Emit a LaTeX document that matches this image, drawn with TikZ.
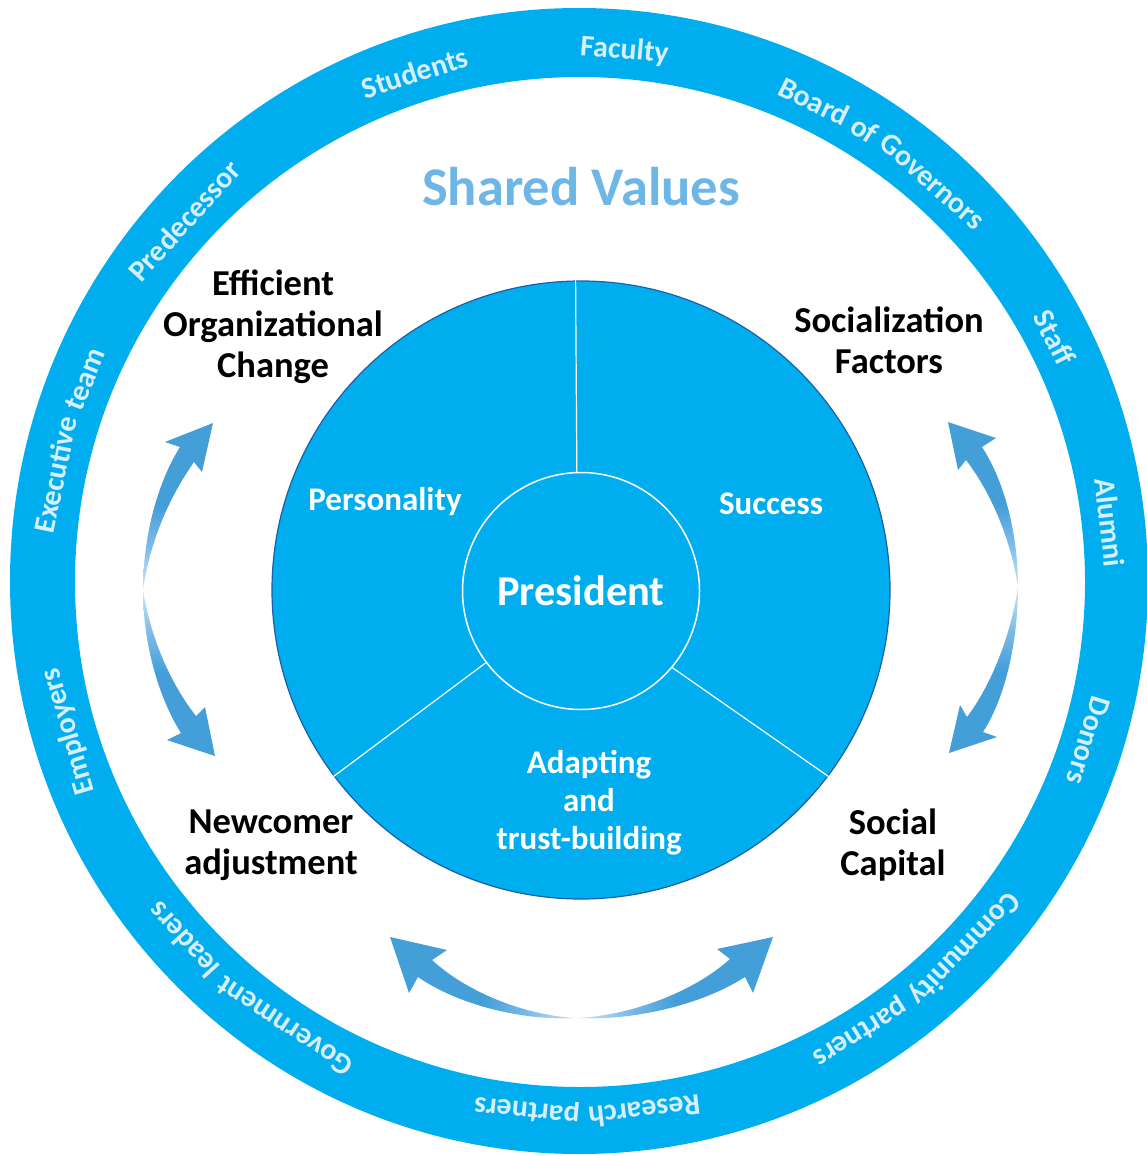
\documentclass[tikz,border=0pt]{standalone}
\usepackage{fontspec}
\setmainfont{Carlito}
\definecolor{ringblue}{HTML}{00AEEF}
\definecolor{edgeblue}{HTML}{1D5FA6}
\definecolor{svblue}{HTML}{6DB6E6}
\definecolor{ringtext}{HTML}{D6EFFB}
\definecolor{arrdark}{HTML}{449FD9}
\definecolor{arrmid}{HTML}{7DBBE8}
\definecolor{arrlight}{HTML}{D0E7F8}
\pgfdeclarehorizontalshading{arrfade}{100bp}{color(0bp)=(arrlight); color(25bp)=(arrlight); color(38bp)=(arrmid); color(50bp)=(arrdark); color(100bp)=(arrdark)}
\newcommand\ringfont{\fontsize{30}{30}\selectfont\bfseries}
\newlength\rwone \newlength\rwtwo
\newcounter{rwcount}
% measure words outside the picture (fonts work normally there)
\newcommand\measurewords[1]{%
  \foreach \w in {#1}{%
    \settowidth\rwone{\ringfont\w}%
    \pgfmathsetmacro\rwt{\rwone}%
    \expandafter\xdef\csname rwW@\w\endcsname{\rwt}%
  }%
  \settowidth\rwone{\ringfont a\ a}%
  \settowidth\rwtwo{\ringfont aa}%
  \pgfmathsetmacro\rwt{\rwone-\rwtwo}%
  \xdef\rwspace{\rwt}%
}
% #1 centre angle, #2 words separated by commas
\newcommand\ringtext[2]{%
  \xdef\rwsum{0}\xdef\rwcnt{0}%
  \foreach \w in {#2}{%
    \edef\rww{\csname rwW@\w\endcsname}%
    \pgfmathsetmacro\rwt{\rwsum+\rww}\xdef\rwsum{\rwt}%
    \pgfmathsetmacro\rwt{\rwcnt+1}\xdef\rwcnt{\rwt}%
  }%
  \pgfmathsetmacro\rwt{#1+0.5*(\rwsum+(\rwcnt-1)*\rwspace)/524*57.29578}%
  \xdef\rwcurG{\rwt}%
  \foreach \w in {#2}{%
    \edef\rww{\csname rwW@\w\endcsname}%
    \pgfmathsetmacro\rwc{\rwcurG-0.5*\rww/524*57.29578}%
    \pgfmathsetmacro\rwrot{\rwc-90}%
    \stepcounter{rwcount}%
    \node[ringword, rotate=\rwrot] (ring\arabic{rwcount}) at (\rwc:524pt) {\w};
    \pgfmathsetmacro\rwt{\rwcurG-(\rww+\rwspace)/524*57.29578}%
    \xdef\rwcurG{\rwt}%
  }%
}
\tikzset{
  blk/.style={align=center, text=black, inner sep=0pt, font=\fontsize{36.5}{41}\selectfont\bfseries},
  wht/.style={align=center, text=white, inner sep=0pt, font=\fontsize{33}{38}\selectfont\bfseries},
  ringword/.style={anchor=base, inner sep=0pt, text=ringtext, font=\ringfont},
  divider/.style={draw=white, line width=1.2pt},
  arrowhalf/.style={shading=arrfade, shading angle=#1}
}
\begin{document}
\measurewords{Faculty,Students,Predecessor,Executive,team,Employers,Government,leaders,Research,partners,Community,Donors,Alumni,Staff,Board,of,Governors}%
\begin{tikzpicture}[x=1pt,y=1pt]
\useasboundingbox (0,0) rectangle (1147,-1156);
% outer ring
\fill[ringblue,even odd rule] (579,-581) ellipse [x radius=569pt, y radius=573pt] (580,-582) circle [radius=505pt];
% ring labels
\begin{scope}[shift={(579,-581)}]
\ringtext{85.1}{Faculty}
\ringtext{107.9}{Students}
\ringtext{137.6}{Predecessor}
\ringtext{164.6}{Executive,team}
\ringtext{196.4}{Employers}
\ringtext{231.2}{Government,leaders}
\ringtext{270.9}{Research,partners}
\ringtext{310.2}{Community,partners}
\ringtext{342.6}{Donors}
\ringtext{6.3}{Alumni}
\ringtext{27.1}{Staff}
\ringtext{54.7}{Board,of,Governors}
\end{scope}
% inner disk
\node[circle, draw=edgeblue, line width=1.2pt, fill=ringblue, minimum size=618pt, inner sep=0pt] (disk) at (581,-590) {};
\node[circle, draw=white, line width=1.5pt, minimum size=237pt, inner sep=0pt, text=white, font=\fontsize{42.5}{42}\selectfont\bfseries] (pres) at (581,-591) {President};
\draw[divider] (disk.91.1) -- (pres.92.9);
\draw[divider] (disk.217.9) -- (pres.217.8);
\draw[divider] (disk.323.2) -- (pres.320.7);
% sector labels
\node[wht] (pers) at (385,-502) {Personality};
\node[wht] (succ) at (771,-504) {Success};
\node[wht] (adapt) at (589,-803) {Adapting\\and\\trust-building};
% outer labels
\node[font=\fontsize{54.5}{54}\selectfont\bfseries, text=svblue, inner sep=0pt] (sv) at (581,-187) {Shared Values};
\node[blk] (eoc) at (273,-327) {Efficient\\Organizational\\Change};
\node[blk] (soc) at (889,-340) {Socialization\\Factors};
\node[blk] (newc) at (271,-845) {Newcomer\\adjustment};
\node[blk] (scap) at (893,-845) {Social\\Capital};
% left arrow
\shade[arrowhalf=90]
 (143,-590) .. controls (143,-540) and (156,-485) .. (180,-447)
 -- (165,-442) -- (213,-423) -- (202,-472) -- (194,-462)
 .. controls (173,-492) and (151,-535) .. (143,-590) -- cycle;
\shade[arrowhalf=270]
 (143,-590) .. controls (143,-640) and (157,-695) .. (181,-733)
 -- (167,-740) -- (215,-756) -- (205,-707) -- (196,-716)
 .. controls (174,-688) and (152,-645) .. (143,-590) -- cycle;
% right arrow
\shade[arrowhalf=90]
 (1018,-587) .. controls (1018,-537) and (1006,-484) .. (982,-447)
 -- (996,-438) -- (948,-422) -- (958,-470) -- (966,-460)
 .. controls (989,-490) and (1010,-535) .. (1018,-587) -- cycle;
\shade[arrowhalf=270]
 (1018,-587) .. controls (1018,-637) and (1007,-695) .. (983,-732)
 -- (997,-737) -- (949,-753) -- (960,-705) -- (967,-717)
 .. controls (989,-688) and (1010,-640) .. (1018,-587) -- cycle;
% bottom arrow
\shade[arrowhalf=180]
 (577,-1018) .. controls (530,-1016) and (470,-995) .. (432,-960)
 -- (447,-950) -- (390,-937) -- (409,-993) -- (418,-977)
 .. controls (460,-1006) and (525,-1021) .. (577,-1018) -- cycle;
\shade[arrowhalf=0]
 (577,-1018) .. controls (625,-1016) and (690,-995) .. (730,-959)
 -- (717,-949) -- (773,-937) -- (753,-993) -- (745,-977)
 .. controls (700,-1006) and (630,-1021) .. (577,-1018) -- cycle;
\end{tikzpicture}
\end{document}
